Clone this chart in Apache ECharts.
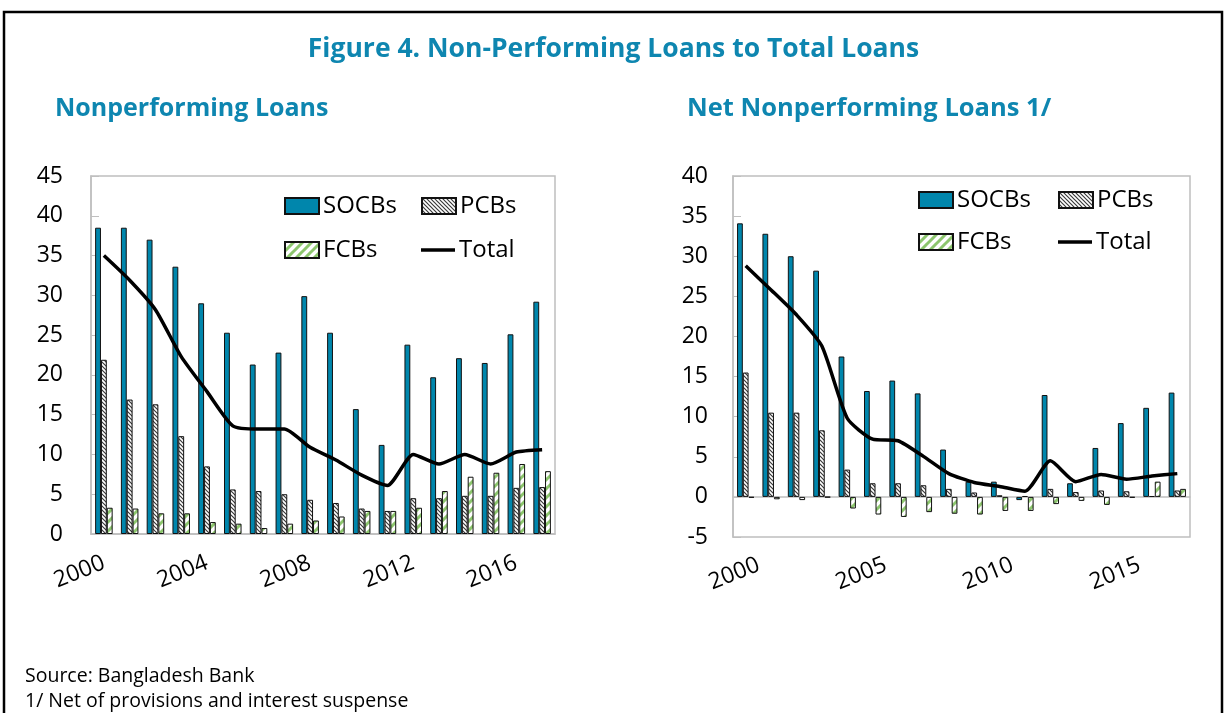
<!DOCTYPE html>
<html>
<head>
<meta charset="utf-8">
<script src="https://cdn.jsdelivr.net/npm/echarts@6/dist/echarts.min.js"></script>
<style>
  html, body { margin: 0; padding: 0; background: #fff; }
  #main { width: 1227px; height: 713px; }
</style>
</head>
<body>
<div id="main"></div>
<script>
// years on the x axis
const years = ['2000', '2001', '2002', '2003', '2004', '2005', '2006', '2007', '2008',
  '2009', '2010', '2011', '2012', '2013', '2014', '2015', '2016', '2017']

// Nonperforming loans (percent of loans)
const npSOCB = [38.5, 38.5, 37.0, 33.6, 29.0, 25.3, 21.3, 22.8, 29.9, 25.3, 15.7, 11.2, 23.8, 19.7, 22.1, 21.5, 25.1, 29.2]
const npPCB = [21.9, 16.9, 16.3, 12.3, 8.5, 5.6, 5.4, 5.0, 4.3, 3.9, 3.2, 2.9, 4.5, 4.5, 4.8, 4.8, 5.8, 5.9]
const npFCB = [3.3, 3.2, 2.6, 2.6, 1.5, 1.3, 0.75, 1.3, 1.7, 2.2, 2.9, 2.9, 3.3, 5.4, 7.2, 7.7, 8.8, 7.9]
const npTotal = [35.0, 31.9, 28.2, 22.3, 17.9, 13.6, 13.2, 13.2, 10.9, 9.3, 7.4, 6.1, 10.0, 8.8, 10.0, 8.8, 10.3, 10.6]

// Net nonperforming loans
const netSOCB = [34.1, 32.8, 30.0, 28.2, 17.5, 13.2, 14.5, 12.9, 5.9, 1.9, 1.9, -0.4, 12.7, 1.7, 6.1, 9.2, 11.1, 13.0]
const netPCB = [15.5, 10.5, 10.5, 8.3, 3.4, 1.7, 1.7, 1.45, 1.0, 0.55, 0.2, 0.1, 1.0, 0.6, 0.8, 0.7, 0.1, 0.8]
const netFCB = [-0.1, -0.3, -0.4, -0.05, -1.45, -2.2, -2.5, -1.9, -2.1, -2.2, -1.75, -1.75, -0.9, -0.5, -1.0, -0.1, 1.9, 1.0]
const netTotal = [28.8, 25.8, 22.7, 18.8, 9.8, 7.2, 7.0, 5.05, 2.9, 1.8, 1.3, 0.7, 4.5, 1.9, 2.8, 2.2, 2.6, 2.9]

const FONT = 'Open Sans'
const TEAL = '#0086AC'
const TITLE = '#0E86B0'
const GRAY = '#BFBFBF'

// hatch patterns for PCBs and FCBs
function hatch(size, color, width, dir) {
  const c = document.createElement('canvas')
  c.width = size
  c.height = size
  const ctx = c.getContext('2d')
  ctx.fillStyle = '#fff'
  ctx.fillRect(0, 0, size, size)
  ctx.strokeStyle = color
  ctx.lineWidth = width
  ctx.beginPath()
  for (let k = -1; k <= 1; k++) {
    if (dir > 0) {
      ctx.moveTo(k * size - 1, size + 1)
      ctx.lineTo(k * size + size + 1, -1)
    } else {
      ctx.moveTo(k * size - 1, -1)
      ctx.lineTo(k * size + size + 1, size + 1)
    }
  }
  ctx.stroke()
  return { image: c, repeat: 'repeat' }
}
const pcbFill = hatch(4, '#3a3a3a', 1.2, -1)
const fcbFill = hatch(9, '#8DC66E', 3, 1)

function bars(name, data, fill, xi, yi) {
  return {
    name: name,
    type: 'bar',
    xAxisIndex: xi,
    yAxisIndex: yi,
    data: data,
    barGap: '0%',
    barCategoryGap: '32%',
    itemStyle: { color: fill, borderColor: '#111', borderWidth: 1 },
  }
}
function total(data, xi, yi) {
  return {
    name: 'Total',
    type: 'line',
    xAxisIndex: xi,
    yAxisIndex: yi,
    data: data,
    smooth: 0.2,
    symbol: 'none',
    lineStyle: { color: '#000', width: 3.5 },
    itemStyle: { color: '#000' },
    z: 5,
  }
}
function legend(name, left, top) {
  return {
    data: [{ name: name, icon: 'rect' }],
    left: left,
    top: top,
    padding: 0,
    itemWidth: 34,
    itemHeight: 16,
    itemGap: 0,
    textStyle: { fontFamily: FONT, fontSize: 24, color: '#000', padding: [0, 0, 0, -1] },
    selectedMode: false,
  }
}
function lineLegend(name, left, top) {
  const l = legend(name, left, top)
  l.itemHeight = 3.5
  l.data = [{ name: name, icon: 'rect', itemStyle: { color: '#000', borderWidth: 0 } }]
  return l
}
const labelStyle = { fontFamily: FONT, fontSize: 23, color: '#000' }

const chart = echarts.init(document.getElementById('main'))
chart.setOption({
  animation: false,
  title: [
    {
      text: 'Figure 4. Non-Performing Loans to Total Loans',
      left: 'center',
      top: 31,
      textStyle: { fontFamily: FONT, fontSize: 26.5, fontWeight: 'bold', color: TITLE },
    },
    {
      text: 'Nonperforming Loans',
      left: 50,
      top: 91,
      textStyle: { fontFamily: FONT, fontSize: 25, fontWeight: 'bold', color: TITLE },
    },
    {
      text: 'Net Nonperforming Loans 1/',
      left: 682,
      top: 91,
      textStyle: { fontFamily: FONT, fontSize: 25.5, fontWeight: 'bold', color: TITLE },
    },
  ],
  legend: [
    legend('SOCBs', 284, 194),
    legend('PCBs', 421, 194),
    legend('FCBs', 284, 238),
    lineLegend('Total', 421, 238),
    legend('SOCBs', 918, 188),
    legend('PCBs', 1058, 188),
    legend('FCBs', 918, 230),
    lineLegend('Total', 1058, 230),
  ],
  grid: [
    { left: 91, top: 176, width: 464, height: 358, show: true, borderColor: GRAY, borderWidth: 1.5 },
    { left: 733, top: 176, width: 457, height: 361, show: true, borderColor: GRAY, borderWidth: 1.5 },
    { left: 746, top: 176, width: 457, height: 361, show: false },
  ],
  xAxis: [
    {
      type: 'category', gridIndex: 0, data: years,
      axisLine: { lineStyle: { color: GRAY, width: 1.5 } },
      axisTick: { inside: true, length: 5, interval: 0, lineStyle: { color: GRAY } },
      axisLabel: Object.assign({ interval: 3, rotate: 22, margin: 28 }, labelStyle),
    },
    {
      type: 'category', gridIndex: 1, data: years,
      axisLine: { onZero: true, lineStyle: { color: GRAY, width: 1.5 } },
      axisTick: { inside: true, length: 5, interval: 0, lineStyle: { color: GRAY } },
      axisLabel: { show: false },
    },
    {
      type: 'category', gridIndex: 2, data: years,
      axisLine: { show: false, onZero: false },
      axisTick: { show: false },
      axisLabel: Object.assign({ interval: 4, rotate: 22, margin: 27 }, labelStyle),
    },
  ],
  yAxis: [
    {
      type: 'value', gridIndex: 0, min: 0, max: 45, interval: 5,
      axisLine: { show: true, lineStyle: { color: GRAY, width: 1.5 } },
      axisTick: { show: true, inside: true, length: 8, lineStyle: { color: GRAY } },
      splitLine: { show: false },
      axisLabel: Object.assign({ margin: 28 }, labelStyle),
    },
    {
      type: 'value', gridIndex: 1, min: -5, max: 40, interval: 5,
      axisLine: { show: true, onZero: false, lineStyle: { color: GRAY, width: 1.5 } },
      axisTick: { show: true, inside: true, length: 8, lineStyle: { color: GRAY } },
      splitLine: { show: false },
      axisLabel: Object.assign({ margin: 25 }, labelStyle),
    },
    {
      type: 'value', gridIndex: 2, min: -5, max: 40, show: false,
    },
  ],
  series: [
    bars('SOCBs', npSOCB, TEAL, 0, 0),
    bars('PCBs', npPCB, pcbFill, 0, 0),
    bars('FCBs', npFCB, fcbFill, 0, 0),
    total(npTotal, 0, 0),
    bars('SOCBs', netSOCB, TEAL, 1, 1),
    bars('PCBs', netPCB, pcbFill, 1, 1),
    bars('FCBs', netFCB, fcbFill, 1, 1),
    total(netTotal, 1, 1),
  ],
  graphic: [
    {
      type: 'rect',
      shape: { x: 4, y: 12, width: 1218, height: 740 },
      style: { fill: 'none', stroke: '#000', lineWidth: 2.5 },
      silent: true,
    },
    {
      type: 'text', left: 25, top: 666,
      style: { text: 'Source: Bangladesh Bank', font: '19.5px "Open Sans"', fill: '#000' },
    },
    {
      type: 'text', left: 25, top: 691,
      style: { text: '1/ Net of provisions and interest suspense', font: '19.5px "Open Sans"', fill: '#000' },
    },
  ],
})
</script>
</body>
</html>
